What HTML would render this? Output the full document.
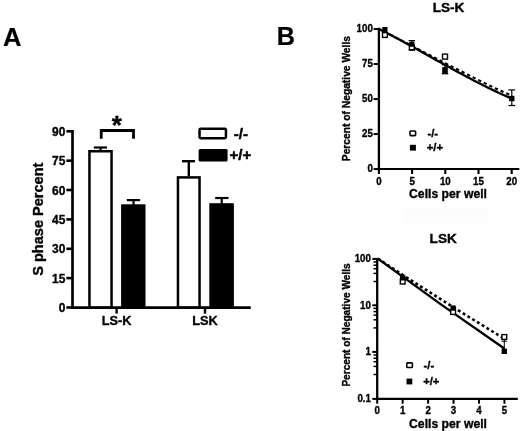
<!DOCTYPE html><html><head><meta charset="utf-8"><style>html,body{margin:0;padding:0;background:#fff;}svg{display:block;will-change:transform;filter:blur(.35px);font-family:"Liberation Sans",sans-serif;font-weight:bold;}text{stroke:#000;stroke-width:.35px;stroke-linejoin:round;}</style></head><body>
<svg width="520" height="431" viewBox="0 0 520 431">
<rect width="520" height="431" fill="#fff"/>
<defs><clipPath id="c1"><rect x="380" y="0" width="140" height="200"/></clipPath><clipPath id="c2"><rect x="378.3" y="240" width="142" height="191"/></clipPath></defs>
<rect x="404" y="208" width="84" height="15" fill="#fcfcfc"/>
<text x="3.0" y="45.5" font-size="25.6" style="stroke-width:.2px">A</text>
<text x="276.8" y="45" font-size="25.2" style="stroke-width:.2px">B</text>
<g stroke="#000" fill="none">
<line x1="72.5" y1="130" x2="72.5" y2="309" stroke-width="2.7"/>
<line x1="71.2" y1="307.8" x2="250.5" y2="307.8" stroke-width="2.6"/>
<line x1="66.4" y1="131.3" x2="72.5" y2="131.3" stroke-width="2.6"/>
<line x1="66.4" y1="160.7" x2="72.5" y2="160.7" stroke-width="2.6"/>
<line x1="66.4" y1="190.0" x2="72.5" y2="190.0" stroke-width="2.6"/>
<line x1="66.4" y1="219.4" x2="72.5" y2="219.4" stroke-width="2.6"/>
<line x1="66.4" y1="248.8" x2="72.5" y2="248.8" stroke-width="2.6"/>
<line x1="66.4" y1="278.1" x2="72.5" y2="278.1" stroke-width="2.6"/>
<line x1="66.4" y1="307.5" x2="72.5" y2="307.5" stroke-width="2.6"/>
<line x1="116.6" y1="307.5" x2="116.6" y2="313.6" stroke-width="2.4"/>
<line x1="205.0" y1="307.5" x2="205.0" y2="313.6" stroke-width="2.4"/>
<line x1="100.5" y1="147.5" x2="100.5" y2="151" stroke-width="2.2"/>
<line x1="93.8" y1="147.5" x2="107" y2="147.5" stroke-width="2.2"/>
<line x1="133.5" y1="200.1" x2="133.5" y2="205" stroke-width="2.2"/>
<line x1="126.8" y1="200.1" x2="140.2" y2="200.1" stroke-width="2.2"/>
<line x1="188.8" y1="161.2" x2="188.8" y2="176" stroke-width="2.4"/>
<line x1="182" y1="161.2" x2="195" y2="161.2" stroke-width="2.4"/>
<line x1="221.7" y1="198.0" x2="221.7" y2="204" stroke-width="2.2"/>
<line x1="215.2" y1="198.0" x2="228.5" y2="198.0" stroke-width="2.2"/>
<rect x="89.45" y="151.25" width="22.1" height="156.25" stroke-width="2.5" fill="#fff"/>
<rect x="121.1" y="204.3" width="24.4" height="103.2" fill="#000" stroke="none"/>
<rect x="177.95" y="177.4" width="21.6" height="130.1" stroke-width="2.5" fill="#fff"/>
<rect x="209.3" y="203.2" width="24.6" height="104.3" fill="#000" stroke="none"/>
<polyline points="101.25,138.7 101.25,130.5 133.5,130.5 133.5,138.7" stroke-width="2.8"/>
<rect x="199.55" y="128.75" width="26.4" height="9.5" rx="1.2" stroke-width="2.5" fill="#fff"/>
<rect x="198.6" y="149" width="29" height="12.5" rx="1.5" fill="#000" stroke="none"/>
</g>
<line x1="71.2" y1="307.8" x2="250.5" y2="307.8" stroke="#000" stroke-width="2.6"/>
<text transform="translate(65.4,135.8) scale(0.92,1)" font-size="13" text-anchor="end">90</text>
<text transform="translate(65.4,165.2) scale(0.92,1)" font-size="13" text-anchor="end">75</text>
<text transform="translate(65.4,194.5) scale(0.92,1)" font-size="13" text-anchor="end">60</text>
<text transform="translate(65.4,223.9) scale(0.92,1)" font-size="13" text-anchor="end">45</text>
<text transform="translate(65.4,253.3) scale(0.92,1)" font-size="13" text-anchor="end">30</text>
<text transform="translate(65.4,282.6) scale(0.92,1)" font-size="13" text-anchor="end">15</text>
<text transform="translate(65.4,312.0) scale(0.92,1)" font-size="13" text-anchor="end">0</text>
<text x="116.6" y="325.1" font-size="12.8" text-anchor="middle">LS-K</text>
<text x="205" y="325.1" font-size="12.8" text-anchor="middle">LSK</text>
<text x="116.9" y="133.6" font-size="26" text-anchor="middle">*</text>
<text x="233.7" y="139.1" font-size="15.1" style="stroke-width:.5px">-/-</text>
<text x="229.4" y="160.3" font-size="15.1" style="stroke-width:.5px">+/+</text>
<text transform="translate(42.9,219.2) rotate(-90)" font-size="14.55" text-anchor="middle">S phase Percent</text>
<g stroke="#000" fill="none">
<line x1="378.9" y1="27.8" x2="378.9" y2="170.7" stroke-width="2.3"/>
<line x1="377.8" y1="169.0" x2="519.3" y2="169.0" stroke-width="2.15"/>
<line x1="373.6" y1="29.05" x2="378.9" y2="29.05" stroke-width="2"/>
<line x1="373.6" y1="64.05" x2="378.9" y2="64.05" stroke-width="2"/>
<line x1="373.6" y1="99.05" x2="378.9" y2="99.05" stroke-width="2"/>
<line x1="373.6" y1="134.05" x2="378.9" y2="134.05" stroke-width="2"/>
<line x1="373.6" y1="169.05" x2="378.9" y2="169.05" stroke-width="2"/>
<line x1="378.9" y1="169.05" x2="378.9" y2="174" stroke-width="2.1"/>
<line x1="412.1" y1="169.05" x2="412.1" y2="174" stroke-width="2.1"/>
<line x1="445.3" y1="169.05" x2="445.3" y2="174" stroke-width="2.1"/>
<line x1="478.5" y1="169.05" x2="478.5" y2="174" stroke-width="2.1"/>
<line x1="511.7" y1="169.05" x2="511.7" y2="174" stroke-width="2.1"/>
<polyline clip-path="url(#c1)" points="378.90,28.98 381.11,30.09 383.33,31.20 385.54,32.31 387.76,33.43 389.97,34.55 392.19,35.68 394.40,36.80 396.62,37.94 398.83,39.07 401.05,40.21 403.26,41.35 405.48,42.49 407.69,43.63 409.91,44.77 412.12,45.92 414.34,47.07 416.55,48.22 418.77,49.37 420.98,50.52 423.20,51.67 425.41,52.83 427.63,53.98 429.84,55.13 432.06,56.28 434.27,57.44 436.49,58.59 438.70,59.74 440.92,60.89 443.13,62.04 445.35,63.19 447.56,64.33 449.78,65.48 452.00,66.62 454.21,67.76 456.42,68.90 458.64,70.03 460.85,71.17 463.07,72.30 465.28,73.43 467.50,74.55 469.71,75.67 471.93,76.79 474.14,77.90 476.36,79.01 478.57,80.12 480.79,81.22 483.00,82.32 485.22,83.41 487.44,84.49 489.65,85.57 491.87,86.64 494.08,87.70 496.29,88.75 498.51,89.78 500.72,90.79 502.94,91.79 505.15,92.78 507.37,93.75 509.58,94.70 511.80,95.64" stroke-width="2.1" stroke-dasharray="3.3 2.9"/>
<polyline clip-path="url(#c1)" points="378.90,28.98 381.11,30.09 383.33,31.21 385.54,32.34 387.76,33.48 389.97,34.63 392.19,35.79 394.40,36.96 396.62,38.14 398.83,39.32 401.05,40.51 403.26,41.71 405.48,42.91 407.69,44.12 409.91,45.34 412.12,46.56 414.34,47.78 416.55,49.01 418.77,50.24 420.98,51.47 423.20,52.70 425.41,53.94 427.63,55.18 429.84,56.42 432.06,57.66 434.27,58.90 436.49,60.14 438.70,61.38 440.92,62.61 443.13,63.85 445.35,65.08 447.56,66.31 449.78,67.54 452.00,68.76 454.21,69.98 456.42,71.19 458.64,72.40 460.85,73.60 463.07,74.79 465.28,75.98 467.50,77.16 469.71,78.34 471.93,79.50 474.14,80.66 476.36,81.81 478.57,82.95 480.79,84.07 483.00,85.19 485.22,86.30 487.44,87.39 489.65,88.47 491.87,89.54 494.08,90.60 496.29,91.65 498.51,92.68 500.72,93.69 502.94,94.69 505.15,95.68 507.37,96.65 509.58,97.60 511.80,98.54" stroke-width="2.3"/>
</g>
<text transform="translate(372.8,32.25) scale(0.9,1)" font-size="10.8" text-anchor="end">100</text>
<text transform="translate(372.8,67.25) scale(0.9,1)" font-size="10.8" text-anchor="end">75</text>
<text transform="translate(372.8,102.25) scale(0.9,1)" font-size="10.8" text-anchor="end">50</text>
<text transform="translate(372.8,137.25) scale(0.9,1)" font-size="10.8" text-anchor="end">25</text>
<text transform="translate(372.8,172.25) scale(0.9,1)" font-size="10.8" text-anchor="end">0</text>
<text transform="translate(378.9,184.5) scale(0.9,1)" font-size="10.8" text-anchor="middle">0</text>
<text transform="translate(412.1,184.5) scale(0.9,1)" font-size="10.8" text-anchor="middle">5</text>
<text transform="translate(445.3,184.5) scale(0.9,1)" font-size="10.8" text-anchor="middle">10</text>
<text transform="translate(478.5,184.5) scale(0.9,1)" font-size="10.8" text-anchor="middle">15</text>
<text transform="translate(511.7,184.5) scale(0.9,1)" font-size="10.8" text-anchor="middle">20</text>
<text x="448.5" y="11.7" font-size="13.6" text-anchor="middle">LS-K</text>
<text x="448" y="197.6" font-size="12.2" text-anchor="middle">Cells per well</text>
<text transform="translate(349.9,98.6) rotate(-90)" font-size="10.25" text-anchor="middle">Percent of Negative Wells</text>
<rect x="382.49999999999994" y="32.6" width="4.800000000000001" height="4.800000000000001" fill="#fff" stroke="#000" stroke-width="1.4"/>
<rect x="382.29999999999995" y="27.0" width="5.2" height="5.2" fill="#000"/>
<g stroke="#000" stroke-width="1.2"><line x1="411.8" y1="40.6" x2="411.8" y2="50.2"/><line x1="408.6" y1="40.6" x2="415.0" y2="40.6"/><line x1="408.6" y1="50.2" x2="415.0" y2="50.2"/></g>
<rect x="409.4" y="44.9" width="4.800000000000001" height="4.800000000000001" fill="#fff" stroke="#000" stroke-width="1.4"/>
<rect x="409.2" y="41.6" width="5.2" height="5.2" fill="#000"/>
<rect x="442.5" y="54.1" width="5.0" height="5.0" fill="#fff" stroke="#000" stroke-width="1.4"/>
<g stroke="#000" stroke-width="1.3"><line x1="445" y1="64.8" x2="445" y2="73.7"/><line x1="441.7" y1="64.8" x2="448.3" y2="64.8"/><line x1="441.7" y1="73.7" x2="448.3" y2="73.7"/></g>
<rect x="442.2" y="67.1" width="5.6" height="6.0" fill="#000"/>
<g stroke="#000" stroke-width="1.2"><line x1="511.8" y1="89.9" x2="511.8" y2="105.5"/><line x1="508.40000000000003" y1="89.9" x2="515.2" y2="89.9"/><line x1="508.40000000000003" y1="105.5" x2="515.2" y2="105.5"/></g>
<rect x="509.1" y="95.8" width="5.4" height="5.4" fill="#000"/>
<rect x="410.0" y="130.95000000000002" width="5.6" height="4.699999999999999" rx="0.8" fill="#fff" stroke="#000" stroke-width="1.6"/>
<rect x="409.9" y="144.79999999999998" width="6.0" height="5.8" fill="#000"/>
<text x="427.4" y="136.5" font-size="11.3">-/-</text>
<text x="426.7" y="150.6" font-size="11.3">+/+</text>
<g stroke="#000" fill="none">
<line x1="377.2" y1="257.9" x2="377.2" y2="400" stroke-width="2.3"/>
<line x1="376.1" y1="398.9" x2="517.8" y2="398.9" stroke-width="2.1"/>
<line x1="372.3" y1="258.9" x2="377.2" y2="258.9" stroke-width="2"/>
<line x1="373.5" y1="262.00" x2="377.2" y2="262.00" stroke-width="1.5"/>
<line x1="373.5" y1="265.20" x2="377.2" y2="265.20" stroke-width="1.5"/>
<line x1="373.5" y1="268.70" x2="377.2" y2="268.70" stroke-width="1.5"/>
<line x1="373.5" y1="273.40" x2="377.2" y2="273.40" stroke-width="1.5"/>
<line x1="373.5" y1="281.50" x2="377.2" y2="281.50" stroke-width="1.5"/>
<line x1="372.3" y1="305.3" x2="377.2" y2="305.3" stroke-width="2"/>
<line x1="373.5" y1="308.40" x2="377.2" y2="308.40" stroke-width="1.5"/>
<line x1="373.5" y1="311.60" x2="377.2" y2="311.60" stroke-width="1.5"/>
<line x1="373.5" y1="315.10" x2="377.2" y2="315.10" stroke-width="1.5"/>
<line x1="373.5" y1="319.80" x2="377.2" y2="319.80" stroke-width="1.5"/>
<line x1="373.5" y1="327.90" x2="377.2" y2="327.90" stroke-width="1.5"/>
<line x1="372.3" y1="351.9" x2="377.2" y2="351.9" stroke-width="2"/>
<line x1="373.5" y1="355.00" x2="377.2" y2="355.00" stroke-width="1.5"/>
<line x1="373.5" y1="358.20" x2="377.2" y2="358.20" stroke-width="1.5"/>
<line x1="373.5" y1="361.70" x2="377.2" y2="361.70" stroke-width="1.5"/>
<line x1="373.5" y1="366.40" x2="377.2" y2="366.40" stroke-width="1.5"/>
<line x1="373.5" y1="374.50" x2="377.2" y2="374.50" stroke-width="1.5"/>
<line x1="372.3" y1="398.9" x2="377.2" y2="398.9" stroke-width="2"/>
<line x1="377.2" y1="398.9" x2="377.2" y2="403.7" stroke-width="2"/>
<line x1="402.65" y1="398.9" x2="402.65" y2="403.7" stroke-width="2"/>
<line x1="428.1" y1="398.9" x2="428.1" y2="403.7" stroke-width="2"/>
<line x1="453.55" y1="398.9" x2="453.55" y2="403.7" stroke-width="2"/>
<line x1="479.0" y1="398.9" x2="479.0" y2="403.7" stroke-width="2"/>
<line x1="504.45" y1="398.9" x2="504.45" y2="403.7" stroke-width="2"/>
<path d="M377.8,258.6 Q441.05,300.2 504.3,338.7" stroke-width="2.6" stroke-dasharray="2.9 2.7"/>
<path d="M377.8,258.6 Q441.05,305.3 504.3,348.6" stroke-width="2.4"/>
</g>
<text transform="translate(370.9,262.4) scale(0.9,1)" font-size="10.8" text-anchor="end">100</text>
<text transform="translate(370.9,308.8) scale(0.9,1)" font-size="10.8" text-anchor="end">10</text>
<text transform="translate(370.9,355.4) scale(0.9,1)" font-size="10.8" text-anchor="end">1</text>
<text transform="translate(370.9,402.4) scale(0.9,1)" font-size="10.8" text-anchor="end">0.1</text>
<text transform="translate(377.2,414.3) scale(0.9,1)" font-size="10.8" text-anchor="middle">0</text>
<text transform="translate(402.65,414.3) scale(0.9,1)" font-size="10.8" text-anchor="middle">1</text>
<text transform="translate(428.1,414.3) scale(0.9,1)" font-size="10.8" text-anchor="middle">2</text>
<text transform="translate(453.55,414.3) scale(0.9,1)" font-size="10.8" text-anchor="middle">3</text>
<text transform="translate(479.0,414.3) scale(0.9,1)" font-size="10.8" text-anchor="middle">4</text>
<text transform="translate(504.45,414.3) scale(0.9,1)" font-size="10.8" text-anchor="middle">5</text>
<text x="443.2" y="243.4" font-size="13.6" text-anchor="middle">LSK</text>
<text x="448" y="427.6" font-size="12.2" text-anchor="middle">Cells per well</text>
<text transform="translate(349.9,325) rotate(-90)" font-size="10.1" text-anchor="middle">Percent of Negative Wells</text>
<rect x="400.29999999999995" y="279.2" width="4.800000000000001" height="4.800000000000001" fill="#fff" stroke="#000" stroke-width="1.4"/>
<rect x="400.0" y="275.1" width="5.4" height="5.4" fill="#000"/>
<rect x="450.7" y="309.59999999999997" width="4.800000000000001" height="4.800000000000001" fill="#fff" stroke="#000" stroke-width="1.4"/>
<rect x="450.5" y="305.4" width="5.2" height="5.2" fill="#000"/>
<g stroke="#000" stroke-width="1"><line x1="504.3" y1="337" x2="504.3" y2="351"/><line x1="501.5" y1="341.2" x2="507.1" y2="341.2"/></g>
<rect x="501.9" y="334.59999999999997" width="4.800000000000001" height="4.800000000000001" fill="#fff" stroke="#000" stroke-width="1.4"/>
<rect x="501.6" y="348.6" width="5.4" height="5.4" fill="#000"/>
<rect x="406.8" y="362.9" width="5.6" height="4.6" rx="0.8" fill="#fff" stroke="#000" stroke-width="1.6"/>
<rect x="406.5" y="378.6" width="5.8" height="5.8" fill="#000"/>
<text x="423.6" y="369.3" font-size="11.2">-/-</text>
<text x="423.2" y="385.3" font-size="11.2">+/+</text>
</svg></body></html>
